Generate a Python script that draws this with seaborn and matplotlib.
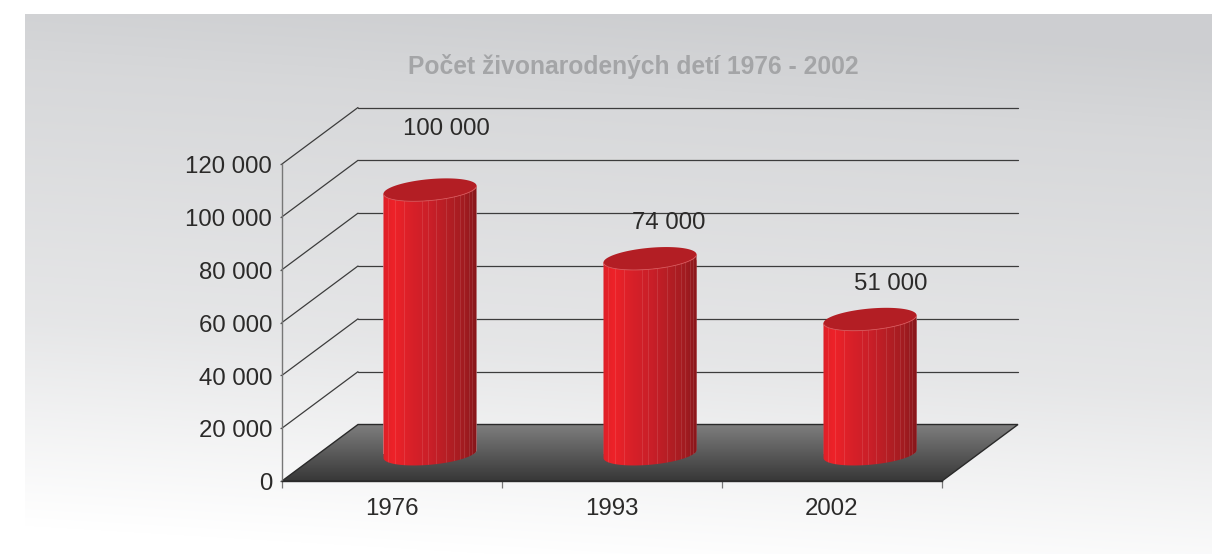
import numpy as np
import matplotlib
matplotlib.use('Agg')
import matplotlib.pyplot as plt
import seaborn as sns
from matplotlib.colors import LinearSegmentedColormap
from matplotlib.patches import Polygon
from matplotlib.transforms import Affine2D

### chart values
years = ['1976', '1993', '2002']
births = [100000, 74000, 51000]
bar_labels = ['100 000', '74 000', '51 000']
y_ticks = [0, 20000, 40000, 60000, 80000, 100000, 120000]
y_tick_labels = ['0', '20 000', '40 000', '60 000', '80 000', '100 000', '120 000']
title = 'Počet živonarodených detí 1976 - 2002'

### label shifts from the top of each bar, in pixels
label_shift = [(16, 61), (19, 36), (21, 35)]

sns.set_theme(style='white')
plt.rcParams['font.family'] = ['Liberation Sans', 'DejaVu Sans']

W, H = 1212, 554
fig = plt.figure(figsize=(W / 100, H / 100), dpi=100)
fig.patch.set_facecolor('white')

### grey to white background panel
bg = fig.add_axes([0, 0, 1, 1], zorder=0)
xx, yy = np.meshgrid(np.arange(W), np.arange(H))
tilted = yy - 0.06 * (xx - 600)
shade = np.interp(tilted, [14, 100, 354, 450, 560], [0.815, 0.85, 0.905, 0.95, 1.0])
tint = (1 - shade) * 0.05
panel = np.dstack([shade - tint, shade - tint * 0.5, shade + tint * 0.5]).clip(0, 1)
panel[(yy < 14) | (xx < 25)] = 1.0
bg.imshow(panel, aspect='auto', extent=(0, W, H, 0))
bg.axis('off')

### front plane of the fake 3d box
FRONT_L, FRONT_R, FRONT_B, FRONT_T = 282, 942, 481, 164
rect = [FRONT_L / W, (H - FRONT_B) / H, (FRONT_R - FRONT_L) / W, (FRONT_B - FRONT_T) / H]
ax = fig.add_axes(rect, zorder=1)
ax.patch.set_alpha(0)
ax.set_xlim(-0.5, 2.5)
ax.set_ylim(0, 120000)

px_x = 3 / (FRONT_R - FRONT_L)
px_y = 120000 / (FRONT_B - FRONT_T)
depth_x = 76 * px_x
depth_y = 56.5 * px_y

### floor with gradient
floor = Polygon([(-0.5, 0), (2.5, 0), (2.5 + depth_x, depth_y), (-0.5 + depth_x, depth_y)],
                closed=True, facecolor='none', edgecolor='#2a2a2a', lw=1.0,
                transform=ax.transData, clip_on=False, zorder=2)
ax.add_patch(floor)
floor_cmap = LinearSegmentedColormap.from_list('floor', ['#7e7e7e', '#383838'])
floor_im = ax.imshow(np.linspace(0, 1, 64).reshape(-1, 1), cmap=floor_cmap, aspect='auto',
                     extent=(-0.5, 2.5 + depth_x, 0, depth_y), zorder=1)
floor_im.set_clip_box(fig.bbox)
floor_im.set_clip_path(floor)

### grid lines on left and back walls
for v in y_ticks[1:]:
    ax.plot([-0.5, -0.5 + depth_x], [v, v + depth_y], color='#3c3c3c', lw=0.9, clip_on=False, zorder=1)
    ax.plot([-0.5 + depth_x, 2.5 + depth_x], [v + depth_y, v + depth_y], color='#3c3c3c', lw=0.9,
            clip_on=False, zorder=1)

ax.set_xlim(-0.5, 2.5)
ax.set_ylim(0, 120000)
ax.set_yticks(y_ticks, labels=y_tick_labels)
ax.set_xticks([0, 1, 2], labels=years)
ax.set_xticks([-0.5, 0.5, 1.5, 2.5], minor=True)
ax.tick_params(axis='y', length=1.5, width=0.9, color='#555555', pad=5.5,
               labelsize=17.3, labelcolor='#2b2a29', left=True)
### labels sit a little lower than the tick
for lab in ax.get_yticklabels():
    lab.set_transform(lab.get_transform() + Affine2D().translate(0, -0.8))
ax.tick_params(axis='x', which='major', length=0, pad=12.5, labelsize=17.3, labelcolor='#2b2a29')
ax.tick_params(axis='x', which='minor', length=5, width=0.9, color='#777777', bottom=True)
sns.despine(ax=ax)
ax.spines['left'].set_color('#777777')
ax.spines['left'].set_linewidth(1.0)
ax.spines['bottom'].set_color('#2a2a2a')
ax.spines['bottom'].set_linewidth(1.0)

### bars stand half way into the box, so they get their own shifted axes
mid_rect = [(FRONT_L + 38) / W, (H - FRONT_B + 27) / H, (FRONT_R - FRONT_L) / W, (FRONT_B - FRONT_T) / H]
ax_mid = fig.add_axes(mid_rect, zorder=2)
ax_mid.patch.set_alpha(0)
sns.barplot(x=years, y=births, color='#c81e28', width=93 * px_x, ax=ax_mid)

### cylinder shading, one column per pixel, light columns are the facet edges
stops = [(0.0, '#dd2028'), (0.12, '#ee2228'), (0.32, '#d72029'), (0.52, '#c81f28'),
         (0.7, '#b31e24'), (0.88, '#a01b20'), (1.0, '#84161a')]
bar_cmap = LinearSegmentedColormap.from_list('cyl', stops)
n_cols = 96
shading = bar_cmap(np.linspace(0, 1, n_cols))
for f in [0.06, 0.13, 0.23, 0.42, 0.49, 0.57, 0.68, 0.77, 0.83, 0.88, 0.93, 0.96]:
    c = int(f * 93) + 1
    shading[c, :3] = shading[c, :3] * 0.9 + 0.1
shading = shading.reshape(1, n_cols, 4)

a, b, tilt = 46.7, 10.7, np.radians(5.2)
phi = np.arctan2(b * np.sin(tilt), a * np.cos(tilt))


def ellipse_points(cx, cy, t):
    ex = a * np.cos(tilt) * np.cos(t) - b * np.sin(tilt) * np.sin(t)
    ey = a * np.sin(tilt) * np.cos(t) + b * np.cos(tilt) * np.sin(t)
    return np.column_stack([cx + ex * px_x, cy + ey * px_y])


for i, (bar, v) in enumerate(zip(ax_mid.patches, births)):
    lower = np.linspace(np.pi - phi, 2 * np.pi - phi, 80)
    bottom_arc = ellipse_points(i, 0, lower)
    top_arc = ellipse_points(i, v, lower)
    body = Polygon(np.vstack([bottom_arc, top_arc[::-1]]), closed=True, facecolor='none',
                   edgecolor='none', transform=ax_mid.transData)
    ax_mid.add_patch(body)
    bar.set_clip_path(body)
    x0 = bar.get_x()
    ### image a bit wider than the bar so its soft edge stays outside the clip
    im = ax_mid.imshow(shading, aspect='auto', zorder=3, interpolation='nearest',
                       extent=(x0 - 1.5 * px_x, x0 + bar.get_width() + 1.5 * px_x,
                               -15 * px_y, v + 15 * px_y))
    im.set_clip_box(fig.bbox)
    im.set_clip_path(body)

    ### top cap
    cap = Polygon(ellipse_points(i, v, np.linspace(0, 2 * np.pi, 160)), closed=True,
                  facecolor='#b31e24', edgecolor='none', zorder=4, clip_on=False)
    ax_mid.add_patch(cap)
    ax_mid.plot(top_arc[:, 0], top_arc[:, 1], color='#d9565a', lw=0.6, zorder=5, clip_on=False)

    ax_mid.annotate(bar_labels[i], xy=(i, v), xytext=label_shift[i], textcoords='offset pixels',
                    ha='center', va='center', fontsize=17.3, color='#2b2a29', annotation_clip=False)

ax_mid.set_xlim(-0.5, 2.5)
ax_mid.set_ylim(0, 120000)
ax_mid.axis('off')

fig.text(633 / W, (H - 66.5) / H, title, ha='center', va='center', fontsize=17.7,
         fontweight='bold', color='#a4a5a7')

fig.savefig('out.png', dpi=100)
